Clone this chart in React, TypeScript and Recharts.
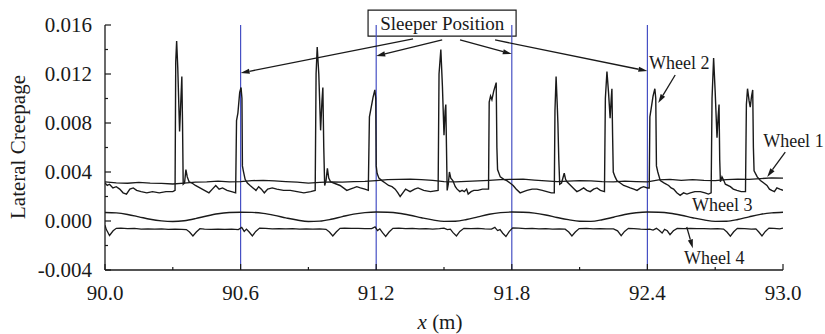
import React from "react";
import {
  LineChart,
  Line,
  XAxis,
  YAxis,
  ReferenceLine,
  ReferenceArea,
  ReferenceDot,
} from "recharts";

const FONT = "'Liberation Serif', 'Times New Roman', serif";
const BLUE = "#4650c4";
const INK = "#1a1a1a";

// tick positions (minor ticks between the labelled ones)
const xTicks = [90.0, 90.3, 90.6, 90.9, 91.2, 91.5, 91.8, 92.1, 92.4, 92.7, 93.0];
const yTicks = [-0.004, -0.002, 0, 0.002, 0.004, 0.006, 0.008, 0.01, 0.012, 0.014, 0.016];
const sleepers = [90.6, 91.2, 91.8, 92.4];

// Wheel 2: lateral creepage, spikes passing over sleepers
const wheel2 = [
  [90.0, 0.0031], [90.01, 0.0029], [90.02, 0.003], [90.035, 0.0027], [90.05, 0.0028],
  [90.065, 0.0026], [90.08, 0.0023], [90.095, 0.0022], [90.11, 0.0026], [90.125, 0.0027],
  [90.14, 0.0025], [90.16, 0.0024], [90.185, 0.0023], [90.21, 0.0024], [90.24, 0.0023],
  [90.27, 0.0024], [90.3, 0.0024], [90.31, 0.0025], [90.313, 0.013], [90.317, 0.0147],
  [90.322, 0.0125], [90.33, 0.0073], [90.336, 0.01], [90.34, 0.0118], [90.343, 0.008],
  [90.346, 0.003], [90.352, 0.0031], [90.358, 0.0042], [90.364, 0.0036], [90.372, 0.0032],
  [90.385, 0.0031], [90.4, 0.0029], [90.42, 0.0027], [90.44, 0.0025], [90.46, 0.0023],
  [90.475, 0.0026], [90.49, 0.0029], [90.505, 0.0026], [90.52, 0.0027], [90.54, 0.0025],
  [90.56, 0.0024], [90.578, 0.0023], [90.582, 0.0082], [90.588, 0.0088], [90.596, 0.0105],
  [90.602, 0.0109], [90.606, 0.01], [90.608, 0.0045], [90.612, 0.0041], [90.62, 0.0034],
  [90.63, 0.0031], [90.642, 0.0029], [90.655, 0.0027], [90.668, 0.0025], [90.68, 0.0028],
  [90.692, 0.0026], [90.705, 0.0023], [90.72, 0.0026], [90.74, 0.0027], [90.76, 0.0026],
  [90.79, 0.0025], [90.82, 0.0025], [90.85, 0.0024], [90.88, 0.0023], [90.91, 0.0024],
  [90.93, 0.0025], [90.934, 0.012], [90.939, 0.0142], [90.946, 0.012], [90.954, 0.0074],
  [90.96, 0.0098], [90.964, 0.0109], [90.968, 0.006], [90.972, 0.0029], [90.978, 0.0033],
  [90.984, 0.0043], [90.99, 0.0035], [90.998, 0.0032], [91.012, 0.0031], [91.026, 0.003],
  [91.04, 0.0029], [91.055, 0.0027], [91.07, 0.0025], [91.085, 0.0026], [91.1, 0.0027],
  [91.114, 0.0028], [91.13, 0.0027], [91.15, 0.0026], [91.165, 0.0025], [91.17, 0.0085],
  [91.176, 0.0091], [91.186, 0.0101], [91.194, 0.0107], [91.198, 0.01], [91.2, 0.0045],
  [91.204, 0.0039], [91.212, 0.0035], [91.225, 0.0033], [91.24, 0.0031], [91.255, 0.0029],
  [91.27, 0.0028], [91.284, 0.0026], [91.296, 0.0023], [91.306, 0.002], [91.318, 0.0023],
  [91.33, 0.0026], [91.35, 0.0024], [91.37, 0.0026], [91.385, 0.0027], [91.41, 0.0025],
  [91.44, 0.0024], [91.474, 0.0025], [91.478, 0.012], [91.486, 0.014], [91.493, 0.011],
  [91.5, 0.007], [91.505, 0.009], [91.508, 0.0095], [91.511, 0.006], [91.514, 0.0025],
  [91.519, 0.003], [91.524, 0.004], [91.53, 0.0035], [91.539, 0.0033], [91.55, 0.0028],
  [91.558, 0.0026], [91.57, 0.0024], [91.58, 0.0025], [91.59, 0.0024], [91.6, 0.0026],
  [91.607, 0.0022], [91.62, 0.0024], [91.632, 0.0025], [91.65, 0.0025], [91.67, 0.0026],
  [91.697, 0.0026], [91.7, 0.0097], [91.706, 0.0102], [91.712, 0.0099], [91.72, 0.0106],
  [91.731, 0.0113], [91.734, 0.006], [91.737, 0.0042], [91.749, 0.0036], [91.765, 0.0034],
  [91.778, 0.0033], [91.792, 0.0031], [91.806, 0.0029], [91.82, 0.0026], [91.837, 0.0023],
  [91.852, 0.0024], [91.867, 0.0025], [91.89, 0.0026], [91.911, 0.0026], [91.935, 0.0025],
  [91.955, 0.0024], [91.975, 0.0023], [91.988, 0.0023], [91.991, 0.009], [91.996, 0.0118],
  [92.001, 0.0095], [92.004, 0.008], [92.008, 0.005], [92.012, 0.003], [92.02, 0.0031],
  [92.032, 0.0039], [92.038, 0.0034], [92.044, 0.0032], [92.055, 0.003], [92.066, 0.0028],
  [92.077, 0.0026], [92.088, 0.0024], [92.1, 0.0025], [92.118, 0.0027], [92.132, 0.0025],
  [92.147, 0.0024], [92.162, 0.0026], [92.177, 0.0027], [92.192, 0.0025], [92.21, 0.0024],
  [92.214, 0.01], [92.221, 0.0122], [92.228, 0.0105], [92.235, 0.0084], [92.24, 0.01],
  [92.243, 0.0108], [92.246, 0.007], [92.249, 0.004], [92.257, 0.0036], [92.265, 0.0033],
  [92.28, 0.0031], [92.295, 0.0029], [92.31, 0.0028], [92.324, 0.0027], [92.34, 0.0026],
  [92.354, 0.0025], [92.37, 0.0027], [92.383, 0.0028], [92.4, 0.0027], [92.408, 0.0027],
  [92.411, 0.0085], [92.416, 0.0091], [92.425, 0.0102], [92.433, 0.0108], [92.437, 0.01],
  [92.44, 0.0045], [92.446, 0.004], [92.457, 0.0033], [92.475, 0.0031], [92.494, 0.0029],
  [92.505, 0.0027], [92.516, 0.0026], [92.53, 0.0023], [92.545, 0.0021], [92.56, 0.0023],
  [92.575, 0.0022], [92.59, 0.0023], [92.61, 0.0024], [92.634, 0.0024], [92.655, 0.0023],
  [92.67, 0.0022], [92.682, 0.0023], [92.686, 0.01], [92.693, 0.0133], [92.7, 0.0105],
  [92.708, 0.0068], [92.713, 0.0085], [92.717, 0.0095], [92.72, 0.005], [92.723, 0.0032],
  [92.73, 0.0036], [92.738, 0.0033], [92.745, 0.003], [92.767, 0.0028], [92.78, 0.0026],
  [92.796, 0.0025], [92.815, 0.0024], [92.834, 0.0024], [92.838, 0.0095], [92.843, 0.0108],
  [92.85, 0.0098], [92.855, 0.0093], [92.861, 0.0102], [92.866, 0.0107], [92.869, 0.006],
  [92.872, 0.0041], [92.886, 0.0036], [92.9, 0.0033], [92.915, 0.0031], [92.929, 0.0029],
  [92.94, 0.0026], [92.95, 0.0025], [92.962, 0.0024], [92.973, 0.0027], [92.986, 0.0026],
  [93.0, 0.0025],
];

// Wheel 1: almost flat
const wheel1 = [
  [90.0, 0.0032], [90.05, 0.00312], [90.1, 0.00308], [90.15, 0.00316], [90.2, 0.0031],
  [90.25, 0.00307], [90.3, 0.00302], [90.35, 0.0031], [90.4, 0.00318], [90.45, 0.0032],
  [90.5, 0.00326], [90.55, 0.0032], [90.6, 0.00322], [90.65, 0.0033], [90.7, 0.00332],
  [90.75, 0.00328], [90.8, 0.00322], [90.85, 0.00318], [90.9, 0.0031], [90.95, 0.00316],
  [91.0, 0.0032], [91.05, 0.00318], [91.1, 0.00322], [91.15, 0.00324], [91.2, 0.0033],
  [91.25, 0.00338], [91.3, 0.0034], [91.35, 0.00342], [91.4, 0.00338], [91.45, 0.00332],
  [91.5, 0.00322], [91.55, 0.0032], [91.6, 0.00324], [91.65, 0.00328], [91.7, 0.00332],
  [91.75, 0.00338], [91.8, 0.0034], [91.85, 0.00342], [91.9, 0.00334], [91.95, 0.00328],
  [92.0, 0.00322], [92.05, 0.00326], [92.1, 0.0033], [92.15, 0.00328], [92.2, 0.00322],
  [92.25, 0.0032], [92.3, 0.00326], [92.35, 0.00322], [92.4, 0.0032], [92.45, 0.00336],
  [92.5, 0.0034], [92.55, 0.00332], [92.6, 0.00338], [92.65, 0.00332], [92.7, 0.0033],
  [92.75, 0.00338], [92.8, 0.00342], [92.85, 0.0034], [92.9, 0.00346], [92.95, 0.00352],
  [93.0, 0.0035],
];

// Wheel 3: smooth wave
const wheel3 = [
  [90.0, 0.0007], [90.05, 0.00066], [90.1, 0.00053], [90.15, 0.00034], [90.2, 0.00014],
  [90.25, 0.00001], [90.3, -0.00004], [90.35, 0.00002], [90.4, 0.00019], [90.45, 0.00041],
  [90.5, 0.00059], [90.55, 0.00069], [90.6, 0.00072], [90.65, 0.0007], [90.7, 0.00062],
  [90.75, 0.00046], [90.8, 0.00026], [90.85, 0.00008], [90.9, -0.00004], [90.95, -0.00001],
  [91.0, 0.00014], [91.05, 0.00036], [91.1, 0.00056], [91.15, 0.00068], [91.2, 0.00073],
  [91.25, 0.00071], [91.3, 0.00063], [91.35, 0.00047], [91.4, 0.00027], [91.45, 0.00009],
  [91.5, -0.00003], [91.55, -0.00002], [91.6, 0.00012], [91.65, 0.00034], [91.7, 0.00055],
  [91.75, 0.00068], [91.8, 0.00073], [91.85, 0.00071], [91.9, 0.00064], [91.95, 0.00049],
  [92.0, 0.00029], [92.05, 0.00011], [92.1, -0.00002], [92.15, -0.00003], [92.2, 0.0001],
  [92.25, 0.00031], [92.3, 0.00053], [92.35, 0.00067], [92.4, 0.00073], [92.45, 0.00071],
  [92.5, 0.00063], [92.55, 0.00047], [92.6, 0.00027], [92.65, 0.00009], [92.7, -0.00003],
  [92.75, -0.00002], [92.8, 0.00012], [92.85, 0.00034], [92.9, 0.00054], [92.95, 0.00066],
  [93.0, 0.00071],
];

// Wheel 4: negative with small dips
const wheel4 = [
  [90.0, -0.00035], [90.006, -0.0007], [90.02, -0.00118], [90.036, -0.0008], [90.05, -0.0006],
  [90.07, -0.00058], [90.1, -0.00063], [90.13, -0.00061], [90.16, -0.00066], [90.19, -0.00064],
  [90.22, -0.00067], [90.25, -0.00065], [90.28, -0.00068], [90.31, -0.00066], [90.34, -0.00068],
  [90.36, -0.0007], [90.374, -0.0009], [90.389, -0.00122], [90.404, -0.0009], [90.42, -0.00063],
  [90.44, -0.00066], [90.47, -0.00068], [90.5, -0.00066], [90.53, -0.00068], [90.56, -0.00067],
  [90.59, -0.0007], [90.605, -0.00052], [90.616, -0.00085], [90.626, -0.00066], [90.638, -0.0009],
  [90.652, -0.00122], [90.667, -0.00085], [90.684, -0.00058], [90.71, -0.0006], [90.74, -0.00064],
  [90.77, -0.00062], [90.8, -0.00065], [90.83, -0.00063], [90.86, -0.00066], [90.89, -0.00064],
  [90.92, -0.00067], [90.95, -0.00065], [90.978, -0.00068], [90.993, -0.0009], [91.008, -0.00122],
  [91.023, -0.0009], [91.04, -0.0006], [91.06, -0.00058], [91.09, -0.00061], [91.12, -0.0006],
  [91.15, -0.00063], [91.18, -0.00062], [91.195, -0.00048], [91.206, -0.00078], [91.216, -0.00064],
  [91.228, -0.00095], [91.242, -0.00126], [91.257, -0.0009], [91.274, -0.0006], [91.3, -0.00058],
  [91.33, -0.00062], [91.36, -0.0006], [91.39, -0.00064], [91.42, -0.00062], [91.45, -0.00066],
  [91.48, -0.00063], [91.5, -0.00058], [91.515, -0.0007], [91.528, -0.00066], [91.54, -0.00095],
  [91.555, -0.00122], [91.57, -0.00085], [91.588, -0.0006], [91.62, -0.00063], [91.65, -0.00061],
  [91.68, -0.00065], [91.71, -0.00066], [91.725, -0.00052], [91.737, -0.00078], [91.748, -0.0007],
  [91.76, -0.001], [91.774, -0.00127], [91.789, -0.00085], [91.804, -0.00056], [91.83, -0.00058],
  [91.86, -0.00062], [91.89, -0.0006], [91.92, -0.00064], [91.95, -0.00062], [91.98, -0.00066],
  [92.01, -0.00064], [92.036, -0.00067], [92.052, -0.0009], [92.066, -0.00122], [92.081, -0.0009],
  [92.098, -0.00062], [92.13, -0.0006], [92.16, -0.00064], [92.19, -0.00062], [92.22, -0.00065],
  [92.25, -0.00064], [92.268, -0.0008], [92.284, -0.0012], [92.299, -0.00085], [92.316, -0.0006],
  [92.34, -0.00062], [92.37, -0.00066], [92.395, -0.00068], [92.41, -0.00066], [92.425, -0.00074],
  [92.44, -0.0006], [92.453, -0.00078], [92.465, -0.00098], [92.476, -0.00068], [92.488, -0.0008],
  [92.5, -0.00112], [92.515, -0.0008], [92.532, -0.0006], [92.56, -0.00062], [92.59, -0.0006],
  [92.62, -0.00063], [92.65, -0.00062], [92.68, -0.00065], [92.71, -0.00063], [92.737, -0.00066],
  [92.752, -0.0009], [92.767, -0.00124], [92.782, -0.00088], [92.798, -0.0006], [92.83, -0.00062],
  [92.86, -0.00066], [92.88, -0.00064], [92.893, -0.0009], [92.907, -0.00122], [92.922, -0.00085],
  [92.938, -0.00058], [92.96, -0.0006], [92.985, -0.00064], [93.0, -0.00058],
];

// annotation arrows, in data units: [x1, y1, x2, y2]
const sleeperArrows = [
  [91.363, 0.01486, 90.6, 0.01208],
  [91.492, 0.01478, 91.2, 0.01347],
  [91.571, 0.01478, 91.8, 0.01363],
  [91.726, 0.01478, 92.4, 0.01224],
];
const wheelArrows = [
  [92.523, 0.01192, 92.448, 0.00963],
  [93.01, 0.00563, 92.93, 0.00359],
  [92.574, -0.00049, 92.601, -0.00223],
];
const wheelLabels = [
  { text: "Wheel 2", x: 92.541, y: 0.0129 },
  { text: "Wheel 1", x: 93.046, y: 0.00653 },
  { text: "Wheel 3", x: 92.731, y: 0.0013 },
  { text: "Wheel 4", x: 92.696, y: -0.00302 },
];

const toPts = (arr: number[][]) => arr.map(([x, y]) => ({ x, y }));

const YTick = (props: any) => {
  const { x, y, payload, index } = props;
  const major = index % 2 === 0;
  return (
    <g>
      <line x1={x} y1={y} x2={x + (major ? 6 : 3)} y2={y} stroke={INK} strokeWidth={1.2} />
      {major && (
        <text x={x - 13} y={y + 7} textAnchor="end" fontFamily={FONT} fontSize={21} fill={INK}>
          {Number(payload.value).toFixed(3)}
        </text>
      )}
    </g>
  );
};

const XTick = (props: any) => {
  const { x, y, payload, index } = props;
  const major = index % 2 === 0;
  return (
    <g>
      <line x1={x} y1={y} x2={x} y2={y - (major ? 6 : 3)} stroke={INK} strokeWidth={1.2} />
      {major && (
        <text x={x} y={y + 30} textAnchor="middle" fontFamily={FONT} fontSize={21} fill={INK}>
          {Number(payload.value).toFixed(1)}
        </text>
      )}
    </g>
  );
};

const Arrow = (props: any) => {
  const { x1, y1, x2, y2 } = props;
  const a = Math.atan2(y2 - y1, x2 - x1);
  const len = 9;
  const half = 2.6;
  const bx = x2 - len * Math.cos(a);
  const by = y2 - len * Math.sin(a);
  const pts = `${x2},${y2} ${bx + half * Math.sin(a)},${by - half * Math.cos(a)} ${bx - half * Math.sin(a)},${by + half * Math.cos(a)}`;
  return (
    <g>
      <line x1={x1} y1={y1} x2={bx} y2={by} stroke={INK} strokeWidth={1.3} />
      <polygon points={pts} fill={INK} />
    </g>
  );
};

const LabelText = (text: string, size: number) => (props: any) => (
  <text x={props.cx} y={props.cy} dy="0.35em" textAnchor="middle" fontFamily={FONT} fontSize={size} fill={INK}>
    {text}
  </text>
);

export default function App() {
  return (
    <div style={{ position: "absolute", left: 0, top: 0, background: "#fff" }}>
      <LineChart width={825} height={334} margin={{ top: 25, right: 42, left: 0, bottom: 0 }}>
        <XAxis
          type="number"
          dataKey="x"
          domain={[90, 93]}
          ticks={xTicks}
          interval={0}
          height={64}
          tickSize={0}
          tickMargin={0}
          tick={<XTick />}
          stroke={INK}
          strokeWidth={1.3}
          allowDataOverflow
          label={{
            content: () => (
              <text x={440} y={329} textAnchor="middle" fontFamily={FONT} fontSize={21} fill={INK}>
                <tspan fontStyle="italic">x</tspan> (m)
              </text>
            ),
          }}
        />
        <YAxis
          type="number"
          domain={[-0.004, 0.016]}
          ticks={yTicks}
          interval={0}
          width={105}
          tickSize={0}
          tickMargin={0}
          tick={<YTick />}
          stroke={INK}
          strokeWidth={1.3}
          allowDataOverflow
          label={{
            content: () => (
              <text transform="translate(25,147) rotate(-90)" textAnchor="middle" fontFamily={FONT} fontSize={21} fill={INK}>
                Lateral Creepage
              </text>
            ),
          }}
        />
        {sleepers.map((s) => (
          <ReferenceLine key={s} x={s} stroke={BLUE} strokeWidth={1.2} />
        ))}
        <Line data={toPts(wheel3)} dataKey="y" stroke={INK} strokeWidth={1.4} dot={false} isAnimationActive={false} type="monotone" />
        <Line data={toPts(wheel4)} dataKey="y" stroke={INK} strokeWidth={1.3} dot={false} isAnimationActive={false} />
        <Line data={toPts(wheel1)} dataKey="y" stroke={INK} strokeWidth={1.3} dot={false} isAnimationActive={false} />
        <Line data={toPts(wheel2)} dataKey="y" stroke={INK} strokeWidth={1.4} dot={false} isAnimationActive={false} />
        <ReferenceArea
          x1={91.164}
          x2={91.819}
          y1={0.0151}
          y2={0.01722}
          fill="#fff"
          fillOpacity={1}
          stroke={INK}
          strokeWidth={1.2}
          ifOverflow="visible"
        />
        <ReferenceDot x={91.492} y={0.01616} r={0} ifOverflow="visible" shape={LabelText("Sleeper Position", 19)} />
        {[...sleeperArrows, ...wheelArrows].map((a, i) => (
          <ReferenceLine
            key={"a" + i}
            segment={[{ x: a[0], y: a[1] }, { x: a[2], y: a[3] }]}
            ifOverflow="visible"
            shape={Arrow}
          />
        ))}
        {wheelLabels.map((l) => (
          <ReferenceDot key={l.text} x={l.x} y={l.y} r={0} ifOverflow="visible" shape={LabelText(l.text, 18)} />
        ))}
      </LineChart>
    </div>
  );
}
